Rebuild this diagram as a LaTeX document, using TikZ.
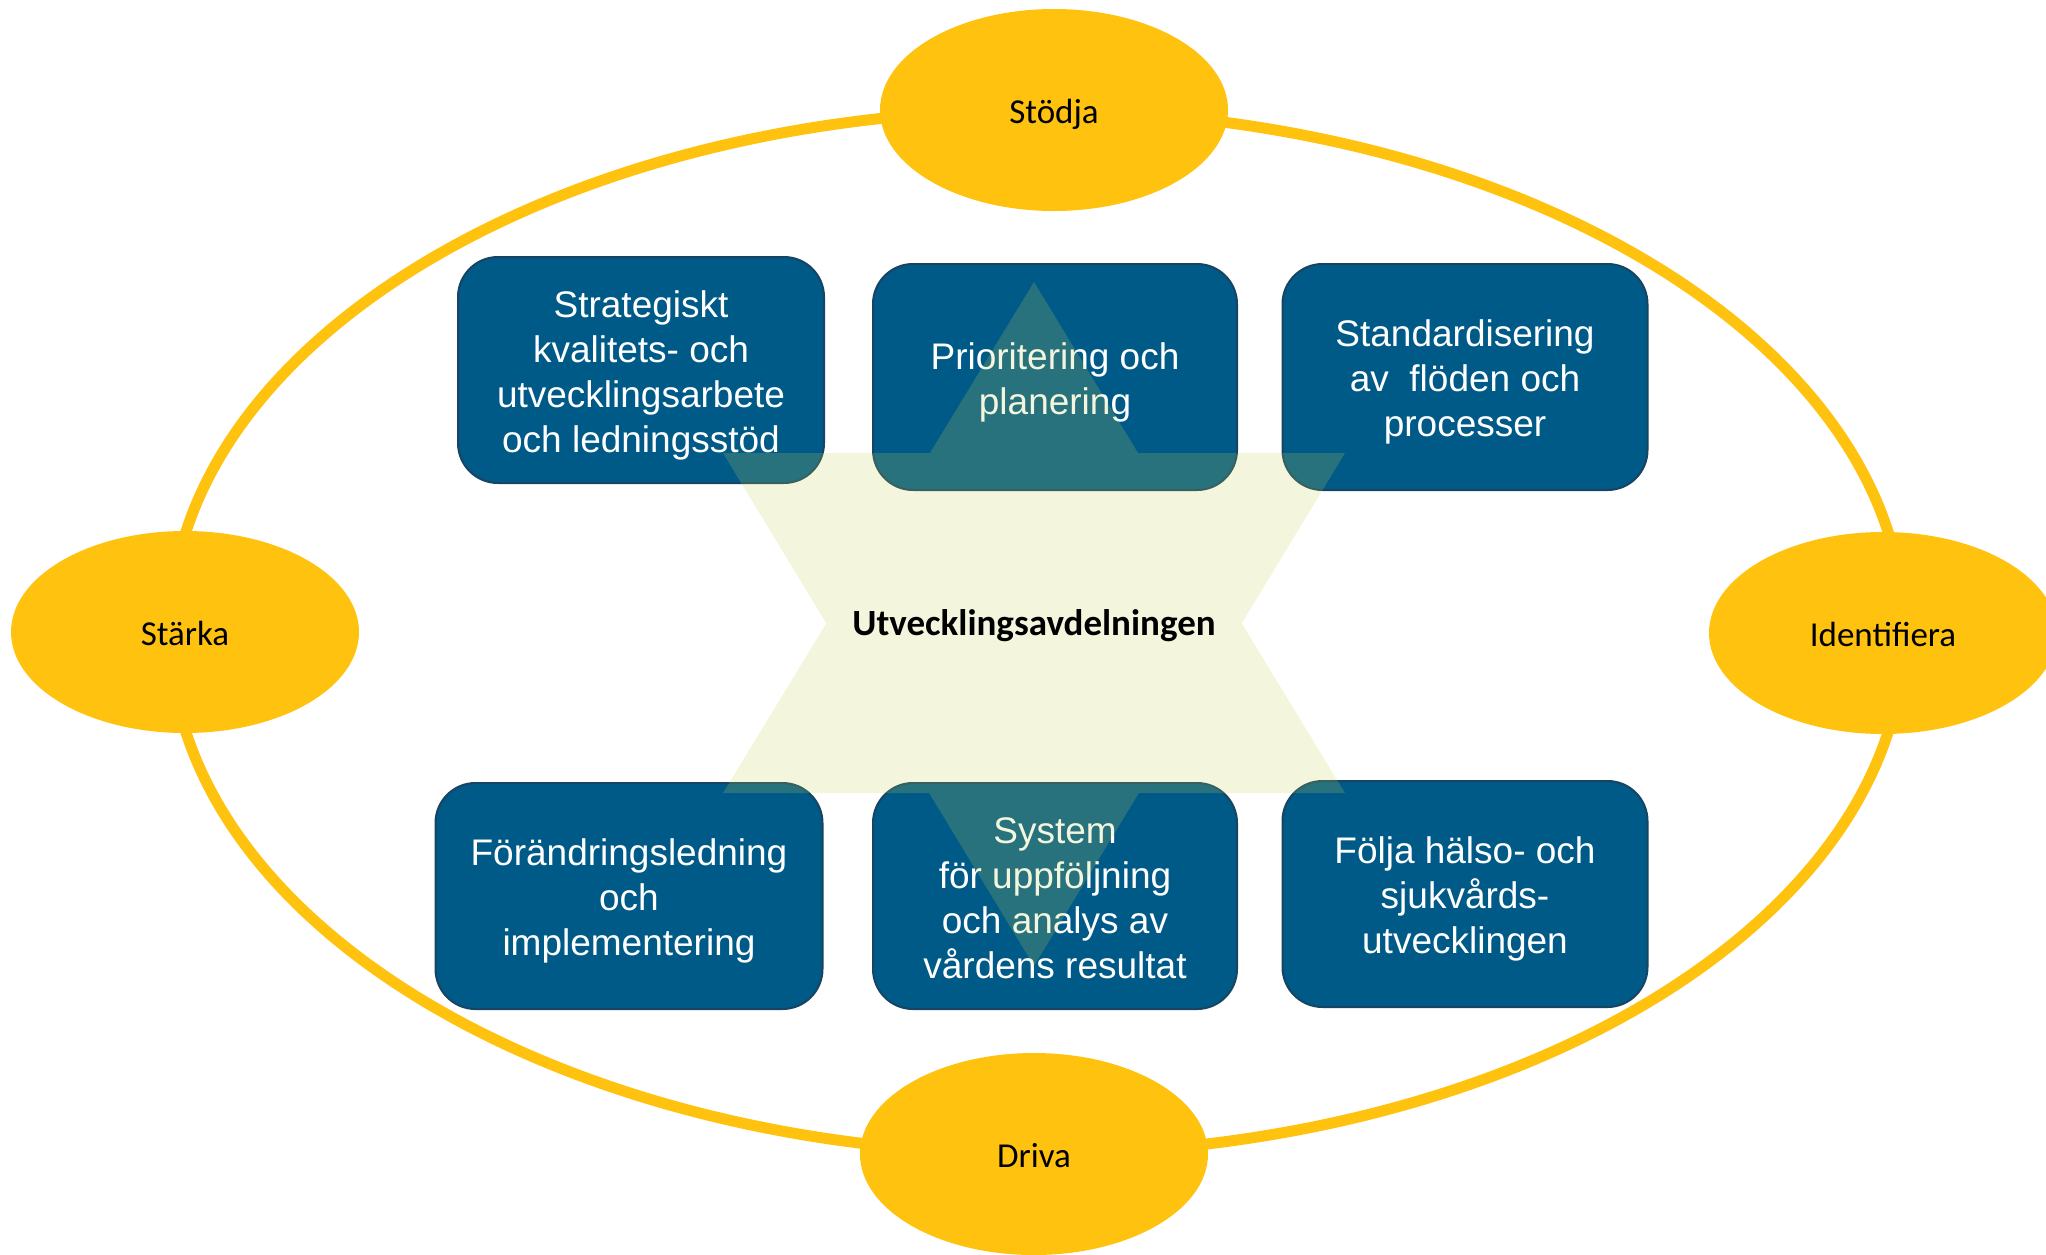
\documentclass[tikz,border=0pt]{standalone}
\usepackage{fontspec}
\setmainfont{Liberation Sans}
\newfontfamily\ovalfont{Carlito}
\usepackage[rgb]{xcolor}
\usetikzlibrary{shapes.geometric}

\definecolor{gold}{RGB}{255,194,14}
\definecolor{boxblue}{RGB}{0,90,136}
\definecolor{boxedge}{RGB}{22,68,98}
\definecolor{starfill}{RGB}{196,210,84}

% fixed line height for the box texts
\newcommand\taskstrut{\rule[-8pt]{0pt}{45pt}}

\begin{document}
\begin{tikzpicture}[x=1pt, y=-1pt,
 ring/.style={draw=gold, line width=11pt},
 oval/.style={ellipse, fill=gold, minimum width=348pt, minimum height=202pt,
  text height=26pt, text depth=0pt,
  font={\ovalfont\fontsize{35}{42}\selectfont}},
 task/.style={rectangle, rounded corners=40pt, fill=boxblue, draw=boxedge,
  line width=2pt, text=white, align=center, minimum height=226pt,
  font={\fontsize{37}{45}\selectfont}},
 starshape/.style={fill=starfill, fill opacity=0.2}]

\useasboundingbox (0,0) rectangle (2046,1254);

% outer ring with the four verbs
\draw[ring] (1037,632) ellipse [x radius=867, y radius=522];
\foreach \name/\pos/\txt in {stodja/{(1054,110)}/Stödja, starka/{(185,632)}/Stärka,
  identifiera/{(1883,633)}/Identifiera, driva/{(1034,1154)}/Driva}
  {
  \node[oval] (\name) at \pos {\txt};
  }

% the six tasks
\node[task, minimum width=366pt] (strategi) at (641,370)
 {\taskstrut Strategiskt\\ kvalitets- och\\ utvecklingsarbete\\ och ledningsstöd\taskstrut};
\node[task, minimum width=364pt] (prio) at (1055,377)
 {\taskstrut Prioritering och\\ planering\taskstrut};
\node[task, minimum width=365pt] (standard) at (1465,377)
 {\taskstrut Standardisering\\ av\ \ flöden och\\ processer\taskstrut};
\node[task, minimum width=387pt] (forandring) at (629,896)
 {\taskstrut Förändringsledning\\ och\\ implementering\taskstrut};
\node[task, minimum width=364pt] (system) at (1055,896)
 {\taskstrut System\\ för uppföljning\\ och analys av\\ vårdens resultat\taskstrut};
\node[task, minimum width=365pt] (folja) at (1465,894)
 {\taskstrut Följa hälso- och\\ sjukvårds-\\ utvecklingen\taskstrut};

% star laid over the boxes
\fill[starshape]
 (1034,282) -- (1345,793) -- (723,793) -- cycle
 (1034,966) -- (723,453) -- (1345,453) -- cycle;

\node[text height=27pt, text depth=0pt,
 font={\ovalfont\bfseries\fontsize{37}{42}\selectfont}] (avd) at (1034,622)
 {Utvecklingsavdelningen};

\end{tikzpicture}
\end{document}
